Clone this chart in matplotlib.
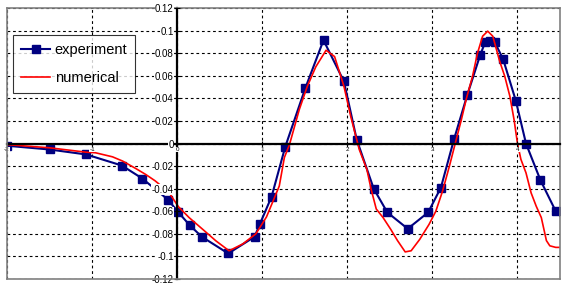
import matplotlib
matplotlib.use('Agg')
import matplotlib.pyplot as plt

# --- Datos ---
exp_x = [-2.0, -1.5, -1.07, -0.65, -0.41, -0.11, 0.015, 0.15, 0.29, 0.60, 0.91, 0.97,
         1.11, 1.27, 1.506, 1.72, 1.96, 2.11, 2.31, 2.47, 2.71, 2.95, 3.10, 3.255,
         3.41, 3.56, 3.62, 3.68, 3.73, 3.83, 3.98, 4.10, 4.27, 4.45, 4.6]
exp_y = [-0.002, -0.0053, -0.0097, -0.0195, -0.031, -0.0496, -0.061, -0.0726, -0.0826,
         -0.0974, -0.0826, -0.0717, -0.047, -0.003, 0.049, 0.0915, 0.055, 0.0035, -0.040,
         -0.061, -0.0755, -0.061, -0.039, 0.004, 0.043, 0.078, 0.0897, 0.0906, 0.090,
         0.075, 0.038, 0.0, -0.0325, -0.060, -0.072]

num_x = [-2.0, -1.5, -1.07, -0.96, -0.76, -0.64, -0.49, -0.37, -0.26, -0.10, 0.015,
         0.14, 0.30, 0.455, 0.61, 0.77, 0.925, 1.05, 1.2, 1.26, 1.32, 1.435, 1.53,
         1.63, 1.75, 1.85, 1.96, 2.04, 2.14, 2.23, 2.28, 2.34, 2.42, 2.51, 2.59, 2.68,
         2.75, 2.85, 2.96, 3.04, 3.12, 3.2, 3.26, 3.34, 3.40, 3.47, 3.53, 3.59, 3.65,
         3.71, 3.79, 3.85, 3.91, 3.96, 4.0, 4.04, 4.10, 4.16, 4.22, 4.28, 4.34, 4.38,
         4.45, 4.55]
num_y = [-0.001, -0.0038, -0.0077, -0.0082, -0.0118, -0.0156, -0.022, -0.0274, -0.033,
         -0.043, -0.056, -0.0656, -0.076, -0.0862, -0.095, -0.089, -0.080, -0.065,
         -0.0377, -0.0124, -0.001, 0.030, 0.0507, 0.068, 0.0826, 0.077, 0.0507, 0.024,
         -0.0053, -0.023, -0.0406, -0.058, -0.0656, -0.076, -0.086, -0.096, -0.095,
         -0.085, -0.0717, -0.060, -0.042, -0.020, -0.0024, 0.021, 0.040, 0.059, 0.080,
         0.095, 0.0995, 0.095, 0.073, 0.0596, 0.042, 0.021, 0.0, -0.014, -0.026,
         -0.0437, -0.0555, -0.0656, -0.086, -0.0906, -0.092, -0.092]

x_ticks = [-2, -1, 0, 1, 2, 3, 4]
y_ticks = [-0.12, -0.1, -0.08, -0.06, -0.04, -0.02, 0, 0.02, 0.04, 0.06, 0.08, 0.1, 0.12]
y_tick_labels = ['-0.12', '-0.1', '-0.08', '-0.06', '-0.04', '-0.02', '0',
                 '0.02', '0.04', '0.06', '0.08', '0.1', '0.12']

plt.rcParams['font.family'] = ['Liberation Sans', 'DejaVu Sans']

fig = plt.figure(figsize=(5.7, 2.89), dpi=100)
ax = fig.add_axes([0.0123, 0.0346, 0.9702, 0.9377])

# rejilla punteada (debajo de las curvas)
for xv in x_ticks:
    ax.axvline(xv, color='black', lw=0.8, ls=(0, (2.5, 2.5)), zorder=1)
for yv in y_ticks:
    ax.axhline(yv, color='black', lw=0.8, ls=(0, (2.5, 2.5)), zorder=1)

ax.plot(exp_x, exp_y, color='#000080', lw=1.5, marker='s', markersize=6.3,
        label='experiment', zorder=2)
ax.plot(num_x, num_y, color='#ff0000', lw=1.2, label='numerical', zorder=2.1)

ax.set_xlim(-2, 4.5)
ax.set_ylim(-0.12, 0.12)

# ejes en el cero, etiquetas con fondo blanco encima de las curvas
ax.set_axisbelow(False)
ax.spines['left'].set_position(('data', 0))
ax.spines['bottom'].set_position(('data', 0))
ax.spines['left'].set_linewidth(1.6)
ax.spines['bottom'].set_linewidth(1.6)
for s in ['top', 'right']:
    ax.spines[s].set_color('#808080')
    ax.spines[s].set_linewidth(1.2)
ax.axvline(-2, color='#808080', lw=1.2, clip_on=False, zorder=3)
ax.axhline(-0.12, color='#808080', lw=1.2, clip_on=False, zorder=3)

ax.set_xticks(x_ticks)
ax.set_xticklabels([str(v) for v in x_ticks])
ax.set_yticks(y_ticks)
ax.set_yticklabels(y_tick_labels)
ax.tick_params(axis='y', direction='inout', length=5, width=0.8, labelsize=7, pad=0)
ax.tick_params(axis='x', direction='inout', length=4, width=0.8, labelsize=4.5, pad=0.5)
for lbl in ax.get_yticklabels() + ax.get_xticklabels():
    lbl.set_bbox(dict(facecolor='white', edgecolor='none', pad=0.3))

leg = ax.legend(loc='upper left', bbox_to_anchor=(0.011, 0.90), borderaxespad=0,
                fontsize=10.5, frameon=True, fancybox=False, numpoints=1,
                handlelength=2.0, handletextpad=0.3, labelspacing=0.95, borderpad=0.55)
leg.get_frame().set_edgecolor('black')
leg.get_frame().set_linewidth(0.8)

fig.savefig('out.png', dpi=100)
